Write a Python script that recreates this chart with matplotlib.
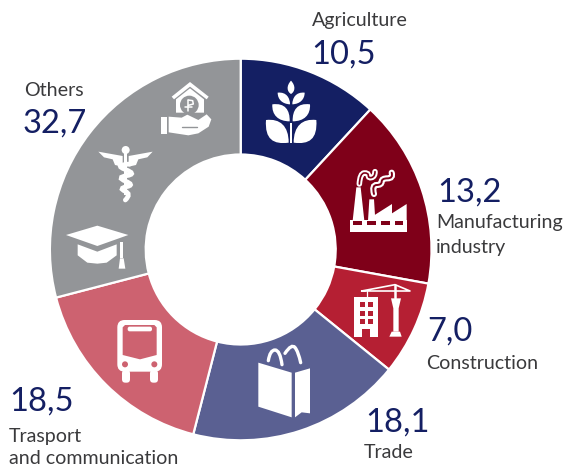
import matplotlib
matplotlib.use('Agg')
import matplotlib.pyplot as plt
from matplotlib.patches import Polygon, Circle, Rectangle, FancyBboxPatch, PathPatch
from matplotlib.path import Path

plt.rcParams['font.family'] = ['Lato', 'DejaVu Sans']

categories = ['Agriculture', 'Manufacturing\nindustry', 'Construction', 'Trade',
              'Trasport\nand communication', 'Others']
values = [10.5, 13.2, 7.0, 18.1, 18.5, 32.7]
# slices in the picture are not quite proportional to the printed numbers,
# so these are the shares as drawn, in degrees
drawn_share = [42.8, 57.5, 28.7, 65.4, 61.0, 104.6]
colors = ['#141f63', '#7f0019', '#b51f33', '#5a6092', '#cd6270', '#939598']

W = 'white'
NAVY = '#141f63'
GREY_TXT = '#3a3a3c'

fig = plt.figure(figsize=(5.66, 4.68), dpi=100)
ax = fig.add_axes([0, 0, 1, 1])

# y axis runs downward, so counterclock=True draws clockwise on screen
ax.pie(drawn_share, colors=colors, center=(240.7, 249.5), radius=190.8, startangle=-90,
       counterclock=True, wedgeprops=dict(width=95.8, edgecolor=W, linewidth=1.6))
ax.set_xlim(0, 566)
ax.set_ylim(468, 0)
ax.set_aspect('equal')
ax.axis('off')


def fmt(v):
    return f'{v:.1f}'.replace('.', ',')


# label positions: x of number, baseline of number, x of text, baseline of first text line
label_pos = [(311, 64, 312, 26), (437, 202, 436, 228), (427, 341, 426, 369),
             (365, 432, 364, 458), (9, 411, 9, 442), (23, 133, 24, 96)]
LINE = 25
for cat, v, (xn, yn, xt, yt) in zip(categories, values, label_pos):
    ax.text(xn, yn, fmt(v), fontsize=23.5, color=NAVY, va='baseline', ha='left')
    for i, part in enumerate(cat.split('\n')):
        step = 22.5 if cat.startswith('Trasport') else LINE
        ax.text(xt, yt + i * step, part, fontsize=14.1, color=GREY_TXT, va='baseline', ha='left')


# icons, points taken from 3x crops of the reference
def zm(pts, ox, oy):
    return [(ox + x / 3, oy + y / 3) for x, y in pts]


def poly(pts, ox, oy, c=W, z=5):
    ax.add_patch(Polygon(zm(pts, ox, oy), closed=True, fc=c, ec='none', zorder=z))


def line(pts, ox, oy, lw=2, c=W, z=5):
    p = zm(pts, ox, oy)
    ax.plot([a for a, b in p], [b for a, b in p], color=c, lw=lw, zorder=z,
            solid_capstyle='round', solid_joinstyle='round')


def smooth(pts, ox, oy, lw=2, c=W, z=5):
    # rounded stroke through the midpoints of the given polyline
    p = zm(pts, ox, oy)
    verts = [p[0]]
    codes = [Path.MOVETO]
    for i in range(1, len(p) - 1):
        end = p[-1] if i == len(p) - 2 else ((p[i][0] + p[i + 1][0]) / 2, (p[i][1] + p[i + 1][1]) / 2)
        verts += [p[i], end]
        codes += [Path.CURVE3, Path.CURVE3]
    ax.add_patch(PathPatch(Path(verts, codes), fc='none', ec=c, lw=lw, zorder=z, capstyle='round'))


def rect(x0, y0, x1, y1, ox, oy, c=W, z=5):
    (a, b), (d, e) = zm([(x0, y0), (x1, y1)], ox, oy)
    ax.add_patch(Rectangle((a, b), d - a, e - b, fc=c, ec='none', zorder=z))


def rrect(x0, y0, x1, y1, r, ox, oy, c=W, z=5):
    (a, b), (d, e) = zm([(x0, y0), (x1, y1)], ox, oy)
    r = r / 3
    ax.add_patch(FancyBboxPatch((a + r, b + r), d - a - 2 * r, e - b - 2 * r,
                                boxstyle=f'round,pad={r}', fc=c, ec='none', zorder=z))


def circ(x, y, r, ox, oy, c=W, z=5):
    ax.add_patch(Circle(zm([(x, y)], ox, oy)[0], r / 3, fc=c, ec='none', zorder=z))


def leaf(tip, a1, a2, base, b1, b2, ox, oy, c=W, z=5):
    verts = zm([tip, a1, a2, base, b1, b2, tip], ox, oy)
    codes = [Path.MOVETO] + [Path.CURVE4] * 6
    ax.add_patch(PathPatch(Path(verts, codes), fc=c, ec='none', zorder=z))


def leaf_pair(tip, a1, a2, base, b1, b2, mx, ox, oy):
    leaf(tip, a1, a2, base, b1, b2, ox, oy)
    flip = [(2 * mx - x, y) for x, y in (tip, a1, a2, base, b1, b2)]
    leaf(*flip, ox, oy)


# wheat
o = (240, 50)
leaf((153, 92), (168, 108), (165, 125), (153, 132), (141, 125), (138, 108), *o)
leaf_pair((113, 128), (140, 125), (150, 145), (150, 163), (127, 162), (113, 148), 153.5, *o)
leaf_pair((97, 163), (135, 158), (150, 180), (149, 214), (115, 214), (95, 195), 153.5, *o)
leaf_pair((78, 210), (120, 205), (146, 228), (146, 278), (100, 284), (74, 268), 153.5, *o)
rect(150, 218, 157, 278, *o)

# factory
rect(330, 510, 500, 545, *o)
for xa, xb in [(340, 365), (381, 408), (422, 449), (465, 490)]:
    rect(xa, 512, xb, 525, *o, c=colors[1], z=6)
poly([(338, 512), (349, 412), (362, 412), (373, 512)], *o)
poly([(384, 512), (388, 448), (402, 448), (406, 512)], *o)
poly([(404, 512), (404, 495), (456, 462), (456, 490), (500, 462), (500, 512)], *o)
smooth([(358, 402), (360, 370), (385, 368), (385, 385), (405, 380), (405, 365)], *o, lw=4, z=5)
smooth([(358, 402), (360, 370), (385, 368), (385, 385), (405, 380), (405, 365)], *o, lw=1.2,
       c=colors[1], z=6)
smooth([(402, 432), (395, 405), (425, 405), (425, 385), (460, 385), (455, 368)], *o, lw=4.4, z=5)
smooth([(402, 432), (395, 405), (425, 405), (425, 385), (460, 385), (455, 368)], *o, lw=1.4,
       c=colors[1], z=6)

# house in hand
o = (50, 70)
poly([(365, 80), (420, 36), (476, 80), (470, 88), (420, 50), (372, 88)], *o)
poly([(378, 88), (420, 55), (462, 88), (462, 128), (378, 128)], *o)
circ(418, 105, 28, *o, c=colors[5], z=6)
line([(415, 90), (415, 122)], *o, lw=1.1, z=7)
line([(415, 90), (428, 92), (430, 102), (415, 106)], *o, lw=1.1, z=7)
line([(406, 112), (426, 112)], *o, lw=1.1, z=7)
rect(332, 140, 350, 192, *o)
poly([(356, 140), (395, 143), (412, 134), (445, 150), (470, 133), (484, 148), (476, 170),
      (445, 190), (415, 196), (356, 187)], *o)
line([(396, 170), (442, 170)], *o, lw=1.0, c=colors[5], z=6)

# caduceus
circ(227, 240, 12, *o)
rect(222, 250, 232, 375, *o)
poly([(145, 245), (218, 258), (218, 290), (195, 285), (188, 268), (162, 262)], *o)
poly([(308, 245), (236, 258), (236, 290), (258, 285), (265, 268), (292, 262)], *o)
smooth([(240, 282), (190, 285), (262, 312), (198, 322), (255, 345), (205, 355), (245, 372), (226, 390)],
       *o, lw=3.4)

# graduation cap
poly([(48, 495), (142, 467), (235, 495), (142, 528)], *o)
poly([(83, 523), (142, 545), (200, 523), (200, 556), (170, 578), (142, 581), (112, 578), (83, 556)], *o)
rect(211, 517, 219, 565, *o)
poly([(210, 565), (221, 565), (226, 596), (206, 596)], *o)

# crane and building
o = (100, 270)
rect(763, 82, 835, 202, *o)
for ya, yb in [(97, 112), (124, 139), (148, 163)]:
    rect(780, ya, 795, yb, *o, c=colors[2], z=6)
    rect(805, ya, 820, yb, *o, c=colors[2], z=6)
rect(787, 176, 810, 202, *o, c=colors[2], z=6)
poly([(873, 85), (903, 85), (896, 115), (896, 185), (880, 185), (880, 115)], *o)
poly([(875, 185), (900, 185), (905, 200), (868, 200)], *o)
line([(785, 63), (885, 44), (930, 63), (785, 63)], *o, lw=1.2)
line([(885, 44), (885, 85)], *o, lw=1.8)
line([(800, 63), (800, 82)], *o, lw=0.9)

# shopping bag
poly([(475, 278), (575, 308), (575, 442), (475, 410)], *o)
poly([(585, 308), (630, 295), (630, 430), (605, 427), (585, 442)], *o)
smooth([(505, 272), (510, 240), (540, 240), (546, 284)], *o, lw=2.4)
smooth([(555, 250), (575, 220), (595, 245), (602, 278)], *o, lw=2.4)

# bus
rrect(52, 150, 186, 305, 22, *o)
poly([(68, 172), (75, 165), (163, 165), (170, 172), (170, 255), (120, 268), (68, 255)], *o,
     c=colors[4], z=6)
rrect(83, 170, 156, 184, 6, *o, z=7)
circ(75, 283, 9, *o, c=colors[4], z=6)
circ(163, 283, 9, *o, c=colors[4], z=6)
rrect(66, 300, 90, 338, 10, *o)
rrect(150, 300, 174, 338, 10, *o)

fig.savefig('out.png', dpi=100)
